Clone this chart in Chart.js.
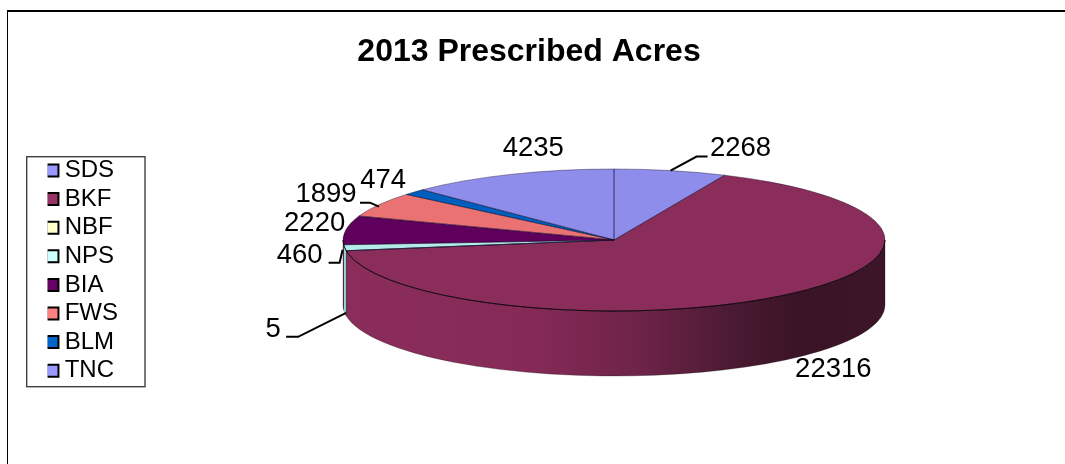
<!DOCTYPE html>
<html>
<head>
<meta charset="utf-8">
<title>2013 Prescribed Acres</title>
<script src="https://cdn.jsdelivr.net/npm/chart.js@4.4.1/dist/chart.umd.min.js"></script>
<style>
  html, body { margin: 0; padding: 0; background: #fff; overflow: hidden; }
  #frame { position: absolute; left: 7px; top: 10px; width: 1060px; height: 460px;
           border-left: 1.5px solid #000; border-top: 2px solid #000; }
  #pie { position: absolute; left: 0; top: 0; }
</style>
</head>
<body>
<div id="frame"></div>
<canvas id="pie" width="1065" height="464"></canvas>
<script>
const categories = ["SDS", "BKF", "NBF", "NPS", "BIA", "FWS", "BLM", "TNC"];
const acres = [2268, 22316, 5, 460, 2220, 1899, 474, 4235];

const legendColors = ["#9999ff", "#993366", "#ffffcc", "#ccffff", "#660066", "#ff8080", "#0066cc", "#9999ff"];
const topColors = ["#8e8dec", "#8b2d5b", "#e8e8b8", "#b4eaea", "#5f005c", "#ea7272", "#005fbe", "#8e8dec"];
const wallColors = ["#7a7ad0", null, "#d8d8a8", "#a8e0e0", "#4a0048", "#c86060", "#004f9e", "#7a7ad0"];

// the tilted pie on the page
const PIE = { cx: 614, cy: 240, rx: 271, ry: 71, depth: 65 };

// label offsets from the middle of each slice's rim
const labelSpots = [
  { dx: 70, dy: -22, leader: [[0, 0], [26, -14], [37, -14]] },
  { dx: 55, dy: 73 },
  { dx: -73, dy: 17, drop: 62, leader: [[0, 0], [-48, 24], [-60, 24]] },
  { dx: -45, dy: 8, leader: [[-2, 2], [-5, 15], [-16, 15]] },
  { dx: -31, dy: -7 },
  { dx: -53, dy: -10, leader: [[0, 2], [-9, -2], [-19, -2]] },
  { dx: -31, dy: -12 },
  { dx: 23, dy: -26 },
];

function rimPoint(angle, drop) {
  return {
    x: PIE.cx + PIE.rx * Math.cos(angle),
    y: PIE.cy + PIE.ry * Math.sin(angle) + (drop || 0),
  };
}

function bkfGradient(ctx) {
  const g = ctx.createLinearGradient(PIE.cx - PIE.rx, 0, PIE.cx + PIE.rx, 0);
  g.addColorStop(0, "#8b2d5b");
  g.addColorStop(0.35, "#852a57");
  g.addColorStop(0.55, "#6d2348");
  g.addColorStop(0.72, "#4a1a32");
  g.addColorStop(0.84, "#3a1326");
  g.addColorStop(1, "#3d1529");
  return g;
}

const tiltedPie = {
  id: "tiltedPie",
  afterLayout(chart) {
    // the legend sits in its own box away from the pie
    const legend = chart.legend;
    const w = legend.width;
    legend.left = 47.6;
    legend.right = legend.left + w;
    legend.top = 153.9;
    legend.bottom = 460;
    // title centre is a little left of the page centre
    chart.titleBlock.left -= 3.5;
    chart.titleBlock.right -= 3.5;
  },
  beforeDatasetsDraw(chart) {
    const ctx = chart.ctx;
    const arcs = chart.getDatasetMeta(0).data;
    ctx.save();
    arcs.forEach((arc, i) => {
      const a0 = Math.max(arc.startAngle, 0);
      const a1 = Math.min(arc.endAngle, Math.PI);
      if (a1 <= a0) return;
      ctx.beginPath();
      ctx.ellipse(PIE.cx, PIE.cy, PIE.rx, PIE.ry, 0, a0, a1);
      ctx.ellipse(PIE.cx, PIE.cy + PIE.depth, PIE.rx, PIE.ry, 0, a1, a0, true);
      ctx.closePath();
      ctx.fillStyle = wallColors[i] || bkfGradient(ctx);
      ctx.fill();
      ctx.strokeStyle = "rgba(0,0,0,0.45)";
      ctx.lineWidth = 0.6;
      ctx.stroke();
    });
    const first = arcs[0];
    const r = first.outerRadius;
    ctx.translate(PIE.cx, PIE.cy);
    ctx.scale(PIE.rx / r, PIE.ry / r);
    ctx.translate(-first.x, -first.y);
  },
  afterDatasetsDraw(chart) {
    const ctx = chart.ctx;
    ctx.restore();
    const arcs = chart.getDatasetMeta(0).data;

    arcs.forEach((arc) => {
      ctx.beginPath();
      ctx.moveTo(PIE.cx, PIE.cy);
      ctx.ellipse(PIE.cx, PIE.cy, PIE.rx, PIE.ry, 0, arc.startAngle, arc.endAngle);
      ctx.closePath();
      ctx.strokeStyle = "rgba(20,10,40,0.5)";
      ctx.lineWidth = 0.8;
      ctx.stroke();
    });

    // darker front edge of the top face
    ctx.beginPath();
    ctx.ellipse(PIE.cx, PIE.cy, PIE.rx, PIE.ry, 0, 0, Math.PI);
    ctx.strokeStyle = "rgba(0,0,0,0.8)";
    ctx.lineWidth = 1;
    ctx.stroke();

    ctx.fillStyle = "#000";
    ctx.font = '27.5px "Liberation Sans", Arial, sans-serif';
    ctx.textAlign = "center";
    ctx.textBaseline = "middle";
    arcs.forEach((arc, i) => {
      const spot = labelSpots[i];
      const mid = (arc.startAngle + arc.endAngle) / 2;
      const p = rimPoint(mid, spot.drop);
      if (spot.leader) {
        ctx.beginPath();
        spot.leader.forEach(([dx, dy], k) => {
          if (k === 0) ctx.moveTo(p.x + dx, p.y + dy);
          else ctx.lineTo(p.x + dx, p.y + dy);
        });
        ctx.strokeStyle = "#000";
        ctx.lineWidth = 2;
        ctx.stroke();
      }
      ctx.fillText(String(acres[i]), p.x + spot.dx, p.y + spot.dy);
    });

    // legend frame
    ctx.strokeStyle = "#404040";
    ctx.lineWidth = 1.4;
    ctx.strokeRect(26.7, 156.7, 118.3, 230);
  },
};

new Chart(document.getElementById("pie"), {
  type: "pie",
  data: {
    labels: categories,
    datasets: [{
      data: acres,
      backgroundColor: topColors,
      borderWidth: 0,
      clip: false,
    }],
  },
  options: {
    responsive: false,
    animation: false,
    plugins: {
      tooltip: { enabled: false },
      title: {
        display: true,
        text: "2013 Prescribed Acres",
        color: "#000",
        font: { family: '"Liberation Sans", Arial, sans-serif', size: 32, weight: "bold" },
        padding: { top: 33, bottom: 10 },
      },
      legend: {
        position: "left",
        align: "start",
        labels: {
          usePointStyle: true,
          pointStyle: "rect",
          boxWidth: 0.5,
          boxHeight: 12,
          padding: 4.6,
          color: "#000",
          font: { family: '"Liberation Sans", Arial, sans-serif', size: 24 },
          generateLabels(chart) {
            const items = Chart.overrides.pie.plugins.legend.labels.generateLabels(chart);
            return items.map((item, i) => ({
              ...item,
              fillStyle: legendColors[i],
              strokeStyle: "#000",
              lineWidth: 2,
            }));
          },
        },
      },
    },
  },
  plugins: [tiltedPie],
});
</script>
</body>
</html>
